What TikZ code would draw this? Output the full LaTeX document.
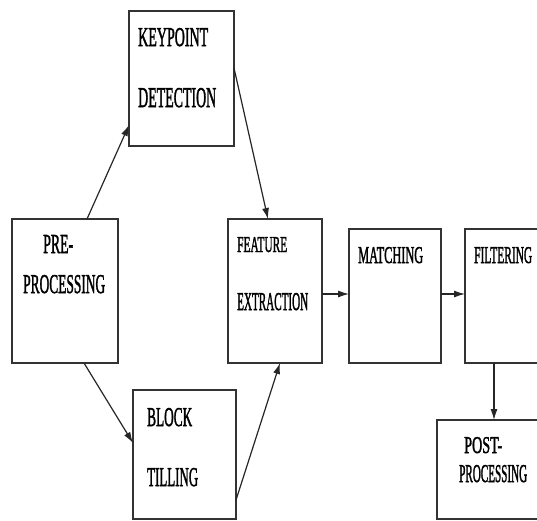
\documentclass[tikz,border=0pt]{standalone}
\usepackage{fontspec}
\usepackage{graphicx}
\newfontfamily\lab[FakeBold=2]{Liberation Serif}
\newcommand{\fitlab}[3]{\resizebox{#1pt}{#2pt}{\lab\fontsize{20}{20}\selectfont #3}}
\usetikzlibrary{arrows.meta}
\begin{document}
\begin{tikzpicture}[x=1pt,y=-1pt,
  box/.style={draw=black!80,line width=1.5pt,inner sep=0pt,outer sep=0pt,anchor=north west,rectangle},
  lbl/.style={inner sep=0pt,anchor=base west},
  arr/.style={draw=black!85,line width=1.2pt,-{Latex[length=11pt,width=7pt]}}]
\useasboundingbox (0,0) rectangle (537,520);
\clip (0,0) rectangle (537,520);
\fill[white] (0,0) rectangle (537,520);
% boxes
\node[box,minimum width=105pt,minimum height=135pt] (kp) at (129,11) {};
\node[box,minimum width=106pt,minimum height=144pt] (pre) at (12,219) {};
\node[box,minimum width=94pt,minimum height=144pt] (fe) at (228,219) {};
\node[box,minimum width=92pt,minimum height=134pt] (ma) at (349,229) {};
\node[box,minimum width=80pt,minimum height=134pt] (fi) at (465,229) {};
\node[box,minimum width=103pt,minimum height=129pt] (bl) at (133,390) {};
\node[box,minimum width=108pt,minimum height=99pt] (po) at (437,420) {};
% labels
\node[lbl] (kp1) at (138,46) {\fitlab{70}{18}{KEYPOINT}};
\node[lbl] (kp2) at (138,107) {\fitlab{78}{19}{DETECTION}};
\node[lbl] (pre1) at (43,253) {\fitlab{30}{18}{PRE-}};
\node[lbl] (pre2) at (23,293) {\fitlab{82}{18}{PROCESSING}};
\node[lbl] (fe1) at (237,252) {\fitlab{50}{15}{FEATURE}};
\node[lbl] (fe2) at (237,310) {\fitlab{71}{17}{EXTRACTION}};
\node[lbl] (ma1) at (358,263) {\fitlab{65}{16}{MATCHING}};
\node[lbl] (fi1) at (474,263) {\fitlab{58}{16}{FILTERING}};
\node[lbl] (bl1) at (147,426) {\fitlab{45}{18}{BLOCK}};
\node[lbl] (bl2) at (147,486) {\fitlab{51}{18}{TILLING}};
\node[lbl] (po1) at (464,453) {\fitlab{38}{16}{POST-}};
\node[lbl] (po2) at (459,482) {\fitlab{68}{17}{PROCESSING}};
% connectors
\coordinate (mid) at (0,294);
\draw[arr] ([xshift=75pt]pre.north west) -- ([yshift=-114pt]kp.north west);
\draw[arr] ([yshift=-57pt]kp.north east) -- ([xshift=40pt]fe.north west);
\draw[arr] ([xshift=72pt]pre.south west) -- ([yshift=-53pt]bl.north west);
\draw[arr] ([yshift=-110pt]bl.north east) -- ([xshift=52pt]fe.south west);
\draw[arr] (fe.east |- mid) -- (ma.west |- mid);
\draw[arr] (ma.east |- mid) -- (fi.west |- mid);
\draw[arr] ([xshift=29pt]fi.south west) -- ([xshift=29pt]fi.south west |- po.north);
\end{tikzpicture}
\end{document}
